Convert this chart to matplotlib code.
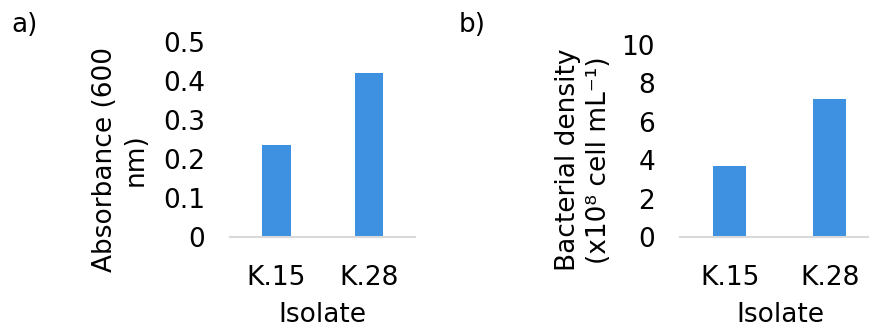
import matplotlib
matplotlib.use('Agg')
import matplotlib.pyplot as plt
import numpy as np

plt.rcParams['font.family'] = ['DejaVu Sans']

isolates   = ['K.15', 'K.28']
absorbance = [0.235, 0.42]
density    = [3.7, 7.2]

bar_col  = '#3d91e0'
axis_col = '#d9d9d9'
FS = 19

fig = plt.figure(figsize=(8.69, 3.31), dpi=100)

ax_a = fig.add_axes([0.2647, 0.284, 0.213, 0.589])
ax_b = fig.add_axes([0.7825, 0.284, 0.230, 0.580])

def style(ax, ylim, yticks, yticklabels, ylabel, lab_x, lab_y):
    x = np.arange(len(isolates))
    ax.set_xlim(-0.5, 1.5)
    ax.set_ylim(*ylim)
    ax.set_yticks(yticks)
    ax.set_yticklabels(yticklabels, fontsize=FS)
    ax.set_xticks(x)
    ax.set_xticklabels(isolates, fontsize=FS)
    ax.tick_params(axis='both', length=0)
    ax.tick_params(axis='y', pad=18)
    ax.tick_params(axis='x', pad=20)
    for s in ['top', 'left', 'right']:
        ax.spines[s].set_visible(False)
    ax.spines['bottom'].set_color(axis_col)
    ax.spines['bottom'].set_linewidth(1.5)
    ax.set_xlabel('Isolate', fontsize=FS, labelpad=8)
    ax.set_ylabel(ylabel, fontsize=FS, linespacing=1.25)
    ax.yaxis.set_label_coords(lab_x, lab_y)

x = np.arange(len(isolates))
ax_a.bar(x, absorbance, width=0.31, color=bar_col, zorder=0)
style(ax_a, (0, 0.5), np.arange(0, 0.51, 0.1), ['0', '0.1', '0.2', '0.3', '0.4', '0.5'],
      'Absorbance (600\nnm)', -0.44, 0.395)

ax_b.bar(x, density, width=0.33, color=bar_col, zorder=0)
style(ax_b, (0, 10), np.arange(0, 11, 2), ['0', '2', '4', '6', '8', '10'],
      'Bacterial density\n(x10⁸ cell mL⁻¹)', -0.34, 0.40)

fig.text(0.013, 0.924, 'a)', fontsize=FS, va='center')
fig.text(0.528, 0.924, 'b)', fontsize=FS, va='center')

fig.savefig('out.png', dpi=100)
